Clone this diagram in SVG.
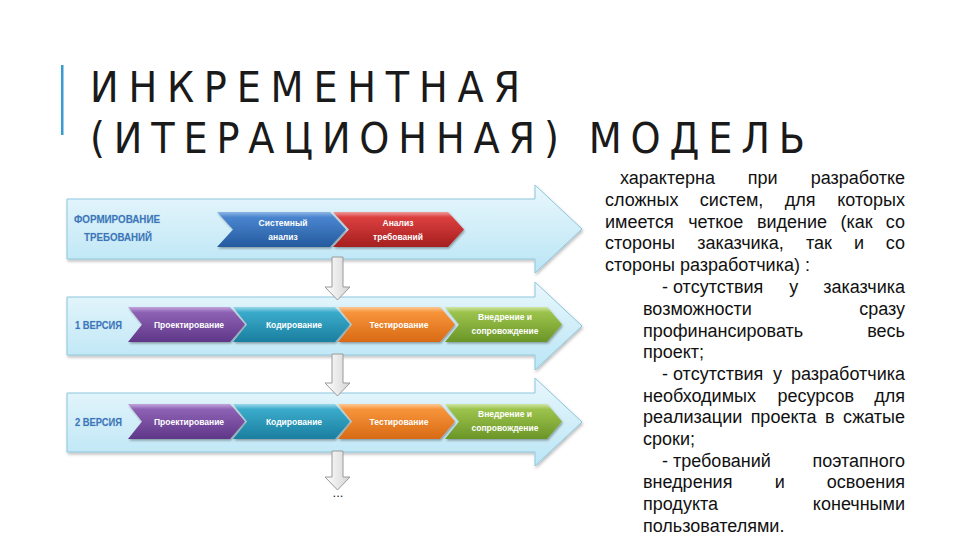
<svg xmlns="http://www.w3.org/2000/svg" width="960" height="540" viewBox="0 0 960 540">
<defs>
<style>
.title{font-family:"DejaVu Sans Condensed","DejaVu Sans",sans-serif;font-stretch:condensed;font-size:42.5px;fill:#1a1a1a}
.body{font-family:"Liberation Sans",Arial,sans-serif;font-size:18px;fill:#111}
.chv{font-family:"Liberation Sans",Arial,sans-serif;font-size:8.5px;font-weight:bold;fill:#fff;text-anchor:middle}
.lbl{font-family:"Liberation Sans",Arial,sans-serif;font-size:10.5px;font-weight:bold;fill:#3a76b8;stroke:#c4e0f2;stroke-width:0.9;paint-order:stroke}
.big{fill:url(#gBig);stroke:#8cc7dd;stroke-width:1;filter:url(#sh)}
.down{fill:url(#gDown);stroke:#9a9a9a;stroke-width:1}
.e{text-anchor:end}
.m{text-anchor:middle}
</style>
<linearGradient id="gBig" x1="0" y1="0" x2="0" y2="1">
<stop offset="0" stop-color="#e9f7fc"/><stop offset="1" stop-color="#bae5f5"/>
</linearGradient>
<linearGradient id="gDown" x1="0" y1="0" x2="1" y2="0">
<stop offset="0" stop-color="#ffffff"/><stop offset="1" stop-color="#d4d4d4"/>
</linearGradient>
<linearGradient id="gBlue" x1="0" y1="0" x2="0" y2="1">
<stop offset="0" stop-color="#8fb6e6"/><stop offset="0.15" stop-color="#4a85cf"/><stop offset="1" stop-color="#245a9e"/>
</linearGradient>
<linearGradient id="gRed" x1="0" y1="0" x2="0" y2="1">
<stop offset="0" stop-color="#f09a9a"/><stop offset="0.15" stop-color="#dc3f3f"/><stop offset="1" stop-color="#a51f1f"/>
</linearGradient>
<linearGradient id="gPurple" x1="0" y1="0" x2="0" y2="1">
<stop offset="0" stop-color="#c3a6dc"/><stop offset="0.15" stop-color="#8d62b4"/><stop offset="1" stop-color="#5f3688"/>
</linearGradient>
<linearGradient id="gCyan" x1="0" y1="0" x2="0" y2="1">
<stop offset="0" stop-color="#9ad9ea"/><stop offset="0.15" stop-color="#3aabcb"/><stop offset="1" stop-color="#1b7e9f"/>
</linearGradient>
<linearGradient id="gOrange" x1="0" y1="0" x2="0" y2="1">
<stop offset="0" stop-color="#fbc995"/><stop offset="0.15" stop-color="#f7943a"/><stop offset="1" stop-color="#d86a14"/>
</linearGradient>
<linearGradient id="gGreen" x1="0" y1="0" x2="0" y2="1">
<stop offset="0" stop-color="#cfe5a3"/><stop offset="0.15" stop-color="#9cc34c"/><stop offset="1" stop-color="#6a9527"/>
</linearGradient>
<filter id="sh" x="-5%" y="-10%" width="110%" height="130%">
<feDropShadow dx="1" dy="2" stdDeviation="1.5" flood-color="#000" flood-opacity="0.25"/>
</filter>
<filter id="sh2" x="-5%" y="-10%" width="110%" height="130%">
<feDropShadow dx="1" dy="1.5" stdDeviation="1" flood-color="#000" flood-opacity="0.35"/>
</filter>
</defs>
<rect width="960" height="540" fill="#fff"/>

<g id="title">
<rect x="61" y="65" width="2.5" height="70" fill="#3a9bd0"/>
<text class="title"><tspan x="90" y="102" textLength="430" lengthAdjust="spacing">ИНКРЕМЕНТНАЯ</tspan><tspan x="90" y="153" textLength="715" lengthAdjust="spacing">(ИТЕРАЦИОННАЯ) МОДЕЛЬ</tspan></text>
</g>

<g id="row1">
<path class="big" d="M67,199 H535 V185 L582,229 L535,273 V259 H67 Z"/>
<text class="lbl" x="74" y="223" textLength="86" lengthAdjust="spacingAndGlyphs">ФОРМИРОВАНИЕ</text>
<text class="lbl" x="84" y="241" textLength="68" lengthAdjust="spacingAndGlyphs">ТРЕБОВАНИЙ</text>
</g>
<g id="row2">
<path class="big" d="M67,297 H535 V282 L582,326 L535,370 V355 H67 Z"/>
<text class="lbl" x="75" y="329" textLength="47" lengthAdjust="spacingAndGlyphs">1 ВЕРСИЯ</text>
</g>
<g id="row3">
<path class="big" d="M67,393 H535 V378 L582,422 L535,466 V452 H67 Z"/>
<text class="lbl" x="75" y="425.5" textLength="47" lengthAdjust="spacingAndGlyphs">2 ВЕРСИЯ</text>
</g>

<g id="r1-sys">
<path fill="url(#gBlue)" filter="url(#sh2)" d="M217,212 H330 L346,229.5 L330,247 H217 L233,229.5 Z"/>
<text class="chv" x="283" y="225.5">Системный</text>
<text class="chv" x="283" y="239.5">анализ</text>
</g>
<g id="r1-req">
<path fill="url(#gRed)" filter="url(#sh2)" d="M333,212 H448 L464,229.5 L448,247 H333 L349,229.5 Z"/>
<text class="chv" x="398" y="225.5">Анализ</text>
<text class="chv" x="398" y="239.5">требований</text>
</g>

<g id="r2-design">
<path fill="url(#gPurple)" filter="url(#sh2)" d="M128,307 H230 L245,324.5 L230,342 H128 L142,324.5 Z"/>
<text class="chv" x="189" y="327.5">Проектирование</text>
</g>
<g id="r2-code">
<path fill="url(#gCyan)" filter="url(#sh2)" d="M233,307 H335 L350,324.5 L335,342 H233 L247,324.5 Z"/>
<text class="chv" x="294" y="327.5">Кодирование</text>
</g>
<g id="r2-test">
<path fill="url(#gOrange)" filter="url(#sh2)" d="M338,307 H440 L455,324.5 L440,342 H338 L352,324.5 Z"/>
<text class="chv" x="399" y="327.5">Тестирование</text>
</g>
<g id="r2-deploy">
<path fill="url(#gGreen)" filter="url(#sh2)" d="M445,307 H547 L562,324.5 L547,342 H445 L459,324.5 Z"/>
<text class="chv" x="505" y="320">Внедрение и</text>
<text class="chv" x="505" y="333.5">сопровождение</text>
</g>

<g id="r3-design">
<path fill="url(#gPurple)" filter="url(#sh2)" d="M128,404 H230 L245,421.5 L230,439 H128 L142,421.5 Z"/>
<text class="chv" x="189" y="424.5">Проектирование</text>
</g>
<g id="r3-code">
<path fill="url(#gCyan)" filter="url(#sh2)" d="M233,404 H335 L350,421.5 L335,439 H233 L247,421.5 Z"/>
<text class="chv" x="294" y="424.5">Кодирование</text>
</g>
<g id="r3-test">
<path fill="url(#gOrange)" filter="url(#sh2)" d="M338,404 H440 L455,421.5 L440,439 H338 L352,421.5 Z"/>
<text class="chv" x="399" y="424.5">Тестирование</text>
</g>
<g id="r3-deploy">
<path fill="url(#gGreen)" filter="url(#sh2)" d="M445,404 H547 L562,421.5 L547,439 H445 L459,421.5 Z"/>
<text class="chv" x="505" y="417">Внедрение и</text>
<text class="chv" x="505" y="430.5">сопровождение</text>
</g>

<g id="connectors">
<path class="down" d="M332,257 H343 V287 H350 L337.5,300 L325,287 H332 Z"/>
<path class="down" d="M332,354 H343 V383 H350 L337.5,396 L325,383 H332 Z"/>
<path class="down" d="M332,451 H343 V477 H350 L337.5,490 L325,477 H332 Z"/>
<text x="338" y="497" class="m" font-family="Liberation Sans, Arial, sans-serif" font-size="13" fill="#222">...</text>
</g>

<g id="description" class="body">
<text x="620" y="184">характерна</text>
<text x="762.7" y="184" class="m">при</text>
<text x="905" y="184" class="e">разработке</text>

<text x="605" y="206">сложных</text>
<text x="731.6" y="206" class="m">систем,</text>
<text x="800.2" y="206" class="m">для</text>
<text x="905" y="206" class="e">которых</text>

<text x="605" y="228">имеется</text>
<text x="715.8" y="228" class="m">четкое</text>
<text x="792" y="228" class="m">видение</text>
<text x="856.5" y="228" class="m">(как</text>
<text x="905" y="228" class="e">со</text>

<text x="605" y="249">стороны</text>
<text x="740.5" y="249" class="m">заказчика,</text>
<text x="818.9" y="249" class="m">так</text>
<text x="859" y="249" class="m">и</text>
<text x="905" y="249" class="e">со</text>

<text x="605" y="271">стороны разработчика) :</text>

<text x="662" y="293">- отсутствия</text>
<text x="793.7" y="293" class="m">у</text>
<text x="905" y="293" class="e">заказчика</text>

<text x="643" y="315">возможности</text>
<text x="905" y="315" class="e">сразу</text>

<text x="643" y="337">профинансировать</text>
<text x="905" y="337" class="e">весь</text>

<text x="643" y="358">проект;</text>

<text x="662" y="380">- отсутствия</text>
<text x="777.5" y="380" class="m">у</text>
<text x="905" y="380" class="e">разработчика</text>

<text x="643" y="402">необходимых</text>
<text x="815.7" y="402" class="m">ресурсов</text>
<text x="905" y="402" class="e">для</text>

<text x="643" y="423">реализации</text>
<text x="783.6" y="423" class="m">проекта</text>
<text x="829.7" y="423" class="m">в</text>
<text x="905" y="423" class="e">сжатые</text>

<text x="643" y="445">сроки;</text>

<text x="662" y="467">- требований</text>
<text x="905" y="467" class="e">поэтапного</text>

<text x="643" y="488">внедрения</text>
<text x="779.7" y="488" class="m">и</text>
<text x="905" y="488" class="e">освоения</text>

<text x="643" y="510">продукта</text>
<text x="905" y="510" class="e">конечными</text>

<text x="643" y="532">пользователями.</text>
</g>
</svg>
